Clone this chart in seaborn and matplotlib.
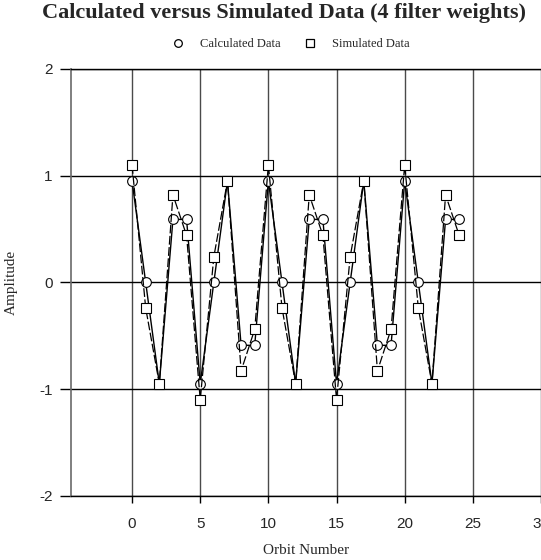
import numpy as np
import pandas as pd
import matplotlib
matplotlib.use("Agg")
import matplotlib.pyplot as plt
from matplotlib.lines import Line2D
import seaborn as sns

# --- data ---
orbit = list(range(25))
calculated = [0.95, 0.0, -0.95, 0.59, 0.59, -0.95, 0.0, 0.95, -0.59, -0.59,
              0.95, 0.0, -0.95, 0.59, 0.59, -0.95, 0.0, 0.95, -0.59, -0.59,
              0.95, 0.0, -0.95, 0.59, 0.59]
simulated = [1.10, -0.24, -0.95, 0.82, 0.44, -1.10, 0.24, 0.95, -0.83, -0.44,
             1.10, -0.24, -0.95, 0.82, 0.44, -1.10, 0.24, 0.95, -0.83, -0.44,
             1.10, -0.24, -0.95, 0.82, 0.44]
x_ticks = [0, 5, 10, 15, 20, 25, 30]
y_ticks = [-2, -1, 0, 1, 2]

df = pd.DataFrame({"orbit": orbit, "calc": calculated, "sim": simulated})

sns.set_theme(style="ticks")
plt.rcParams["font.family"] = ["Liberation Sans", "DejaVu Sans"]
plt.rcParams["axes.unicode_minus"] = False
serif = ["Liberation Serif", "DejaVu Serif"]

fig = plt.figure(figsize=(5.41, 5.60), dpi=100)
ax = fig.add_axes([0.1307, 0.1148, 0.8693, 0.762])

# grid
for xv in x_ticks:
    ax.axvline(xv, color="#4a4a4a", lw=1.0, zorder=0)
for yv in y_ticks:
    ax.axhline(yv, color="black", lw=1.0, zorder=0)

sns.lineplot(data=df, x="orbit", y="calc", ax=ax, color="black", lw=1.0,
             marker="o", markersize=7, markerfacecolor="white",
             markeredgecolor="black", markeredgewidth=0.8, zorder=3)
sns.lineplot(data=df, x="orbit", y="sim", ax=ax, color="black", lw=0.9,
             dashes=(7, 2), marker="s", markersize=6.5, markerfacecolor="white",
             markeredgecolor="black", markeredgewidth=0.8, zorder=4)

ax.set_xlim(-4.5, 30)
ax.set_ylim(-2, 2)
ax.set_xticks(x_ticks)
ax.set_yticks(y_ticks)
ax.tick_params(axis="y", direction="out", length=8, width=1, color="black",
               labelsize=11, pad=5)
ax.tick_params(axis="x", direction="out", length=5, width=1, color="black",
               labelsize=11, pad=10)

for side in ["top", "bottom"]:
    ax.spines[side].set_color("black")
    ax.spines[side].set_linewidth(1.0)
ax.spines["left"].set_color("#6a6a6a")
ax.spines["left"].set_linewidth(1.2)
ax.spines["right"].set_visible(False)

ax.set_xlabel("Orbit Number", family=serif, fontsize=11, labelpad=10)
ax.set_ylabel("Amplitude", family=serif, fontsize=11)
ax.yaxis.set_label_coords(-0.112, 0.5)

fig.text(284 / 541, 1 - 13 / 560, "Calculated versus Simulated Data (4 filter weights)",
         family=serif, fontsize=16, fontweight="bold", ha="center", va="center")

handles = [
    Line2D([], [], ls="none", marker="o", markersize=5.5, markerfacecolor="white",
           markeredgecolor="black", markeredgewidth=0.9),
    Line2D([], [], ls="none", marker="s", markersize=5.5, markerfacecolor="white",
           markeredgecolor="black", markeredgewidth=0.9),
]
fig.legend(handles, ["Calculated Data", "Simulated Data"], loc="center",
           bbox_to_anchor=(289 / 541, 1 - 44 / 560), ncol=2, frameon=False,
           prop={"family": serif, "size": 9}, handlelength=1.5,
           columnspacing=1.65, handletextpad=1.0)

fig.savefig("out.png", dpi=100)
